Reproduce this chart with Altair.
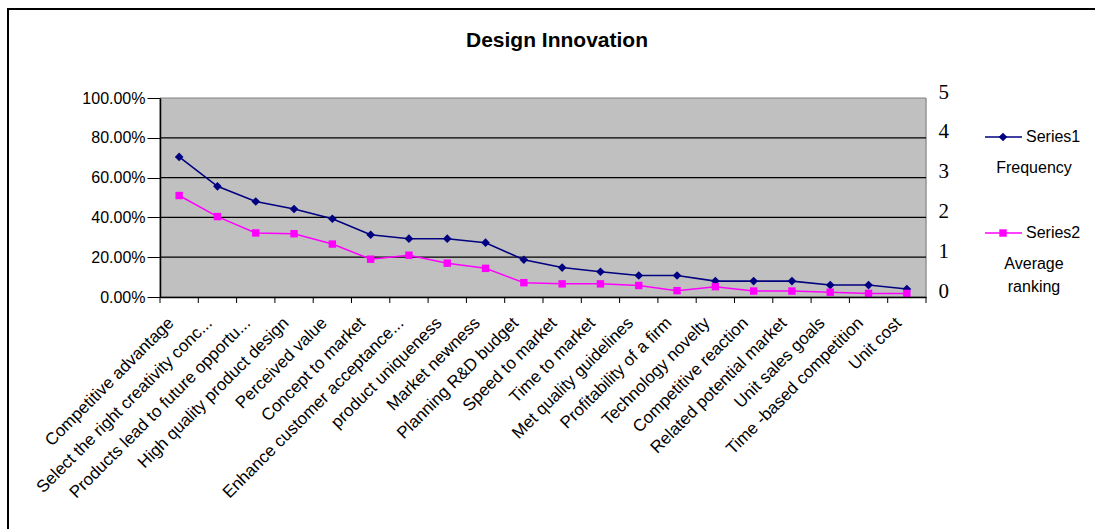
import altair as alt
import pandas as pd

# Design factors, ordered by frequency of mention
factors = [
    "Competitive advantage",
    "Select the right creativity conc...",
    "Products lead to future opportu...",
    "High quality product design",
    "Perceived value",
    "Concept to market",
    "Enhance customer acceptance...",
    "product uniqueness",
    "Market newness",
    "Planning R&D budget",
    "Speed to market",
    "Time to market",
    "Met quality guidelines",
    "Profitability of a firm",
    "Technology novelty",
    "Competitive reaction",
    "Related potential market",
    "Unit sales goals",
    "Time -based competition",
    "Unit cost",
]

# Series1: frequency (share of respondents)
frequency = [0.704, 0.556, 0.480, 0.442, 0.393, 0.313, 0.293, 0.293, 0.273, 0.187,
             0.148, 0.127, 0.108, 0.108, 0.080, 0.080, 0.080, 0.060, 0.060, 0.040]

# Series2: average ranking (0-5)
avg_ranking = [2.55, 2.02, 1.61, 1.59, 1.33, 0.95, 1.05, 0.85, 0.72, 0.36,
               0.33, 0.33, 0.29, 0.16, 0.26, 0.15, 0.15, 0.12, 0.09, 0.09]

pct_ticks = [0, 0.2, 0.4, 0.6, 0.8, 1.0]
grid_levels = [0.2, 0.4, 0.6, 0.8]
rank_ticks = [0, 1, 2, 3, 4, 5]

df = pd.DataFrame({"factor": factors, "frequency": frequency, "ranking": avg_ranking})

W, H = 766, 199
SANS = "Liberation Sans"
SERIF = "Liberation Serif"
NAVY = "#000080"
MAGENTA = "#FF00FF"
one = alt.Data(values=[{"k": 1}])

x_enc = alt.X(
    "factor:N",
    sort=factors,
    scale=alt.Scale(paddingInner=0, paddingOuter=0),
    axis=alt.Axis(
        title=None,
        labelAngle=-45,
        labelAlign="right",
        labelBaseline="middle",
        labelFont=SANS,
        labelFontSize=17,
        labelColor="black",
        labelPadding=23,
        labelOffset=-8,
        ticks=False,
        domainColor="black",
        domainWidth=1.5,
        labelLimit=0,
        labelOverlap=False,
        zindex=1,
    ),
)

base = alt.Chart(df)

# grey plotting area with its border
plot_bg = alt.Chart(one).mark_rect(fill="#C0C0C0", stroke="#808080", strokeWidth=1).encode(
    x=alt.value(0), x2=alt.value(W), y=alt.value(0), y2=alt.value(H)
)

# horizontal gridlines at the 20% steps
grid = alt.Chart(pd.DataFrame({"level": grid_levels})).mark_rule(color="black", strokeWidth=1.2).encode(
    y=alt.Y("level:Q", scale=alt.Scale(domain=[0, 1], nice=False), axis=None),
    x=alt.value(0),
    x2=alt.value(W),
)

freq_line = base.mark_line(
    color=NAVY, strokeWidth=1.6,
    point=alt.OverlayMarkDef(shape="diamond", size=75, filled=True, color=NAVY),
).encode(
    x=x_enc,
    y=alt.Y(
        "frequency:Q",
        scale=alt.Scale(domain=[0, 1], nice=False),
        axis=alt.Axis(
            title=None, orient="left", values=pct_ticks, format=".2%",
            labelFont=SANS, labelFontSize=16, labelColor="black", labelPadding=2,
            tickColor="black", tickSize=13, domainColor="black", domainWidth=1.5,
            grid=False, zindex=1,
        ),
    ),
)

rank_line = base.mark_line(
    color=MAGENTA, strokeWidth=1.5,
    point=alt.OverlayMarkDef(shape="square", size=55, filled=True, color=MAGENTA),
).encode(
    x=alt.X("factor:N", sort=factors),
    y=alt.Y(
        "ranking:Q",
        scale=alt.Scale(domain=[0, 5], nice=False),
        axis=alt.Axis(
            title=None, orient="right", values=rank_ticks, format="d",
            labelFont=SERIF, labelFontSize=21, labelColor="black",
            labelPadding=12, labelOffset=-6,
            ticks=False, domain=False, grid=False,
        ),
    ),
)

# category-boundary tick marks under the x axis
x_ticks = base.mark_rule(color="black", strokeWidth=1).encode(
    x=alt.X("factor:N", sort=factors, bandPosition=0),
    y=alt.value(H),
    y2=alt.value(H + 6),
)
last_tick = alt.Chart(one).mark_rule(color="black").encode(
    x=alt.value(W), y=alt.value(H), y2=alt.value(H + 6)
)

# legend block on the right
def legend_entry(label, color, shape, size, yy, caption_lines, cap_y):
    seg = alt.Chart(one).mark_rule(color=color, strokeWidth=1.5).encode(
        x=alt.value(825), x2=alt.value(862), y=alt.value(yy)
    )
    sym = alt.Chart(one).mark_point(shape=shape, size=size, filled=True, color=color, opacity=1).encode(
        x=alt.value(843), y=alt.value(yy)
    )
    txt = alt.Chart(one).mark_text(
        text=label, align="left", baseline="middle", font=SANS, fontSize=16, color="black"
    ).encode(x=alt.value(866), y=alt.value(yy))
    caps = [
        alt.Chart(one).mark_text(
            text=line, align="center", baseline="middle", font=SANS, fontSize=16, color="black"
        ).encode(x=alt.value(874), y=alt.value(cap_y + i * 23))
        for i, line in enumerate(caption_lines)
    ]
    return [seg, sym, txt] + caps

legend_layers = (
    legend_entry("Series1", NAVY, "diamond", 75, 39, ["Frequency"], 70)
    + legend_entry("Series2", MAGENTA, "square", 55, 135, ["Average", "ranking"], 166)
)

title = alt.Chart(one).mark_text(
    text="Design Innovation", align="center", baseline="alphabetic",
    font=SANS, fontSize=21, fontWeight="bold", color="black",
).encode(x=alt.value(397), y=alt.value(-51))

frame = alt.Chart(one).mark_rect(filled=False, stroke="black", strokeWidth=2).encode(
    x=alt.value(-152), x2=alt.value(W + 200), y=alt.value(-89), y2=alt.value(H + 300)
)

chart = (
    alt.layer(plot_bg, grid, freq_line, rank_line, x_ticks, last_tick, frame, title, *legend_layers)
    .resolve_scale(y="independent")
    .properties(
        width=W,
        height=H,
        autosize=alt.AutoSizeParams(type="none"),
        padding={"left": 160, "top": 98, "right": 169, "bottom": 232},
    )
    .configure_view(stroke=None)
    .configure(background="white")
)

chart.save("out.html", embed_options={"renderer": "svg", "actions": False})
